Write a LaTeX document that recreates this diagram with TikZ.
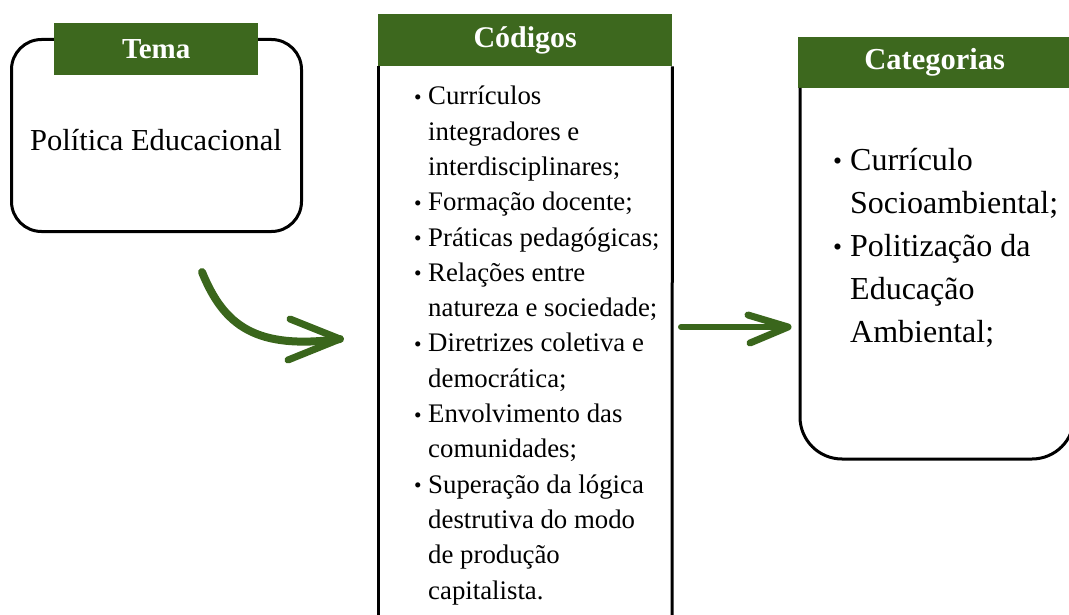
\documentclass[tikz,border=0pt]{standalone}
\usepackage{fontspec}
\setmainfont{Liberation Serif}
\usepackage{graphicx}
\definecolor{hgreen}{HTML}{3D681E}
\definecolor{agreen}{HTML}{3A661C}
\newcommand{\bul}{\makebox[14pt][l]{\raisebox{0.5pt}{\scalebox{0.8}{\textbullet}}}}
\newcommand{\cnt}{\hspace*{14pt}}
\newcommand{\bulc}{\makebox[17pt][l]{\raisebox{0.5pt}{\scalebox{0.8}{\textbullet}}}}
\newcommand{\cntc}{\hspace*{17pt}}
\begin{document}
\begin{tikzpicture}[x=1pt,y=-1pt,
  frame/.style={draw=black,line width=3pt},
  header/.style={fill=hgreen,text=white,font=\bfseries,inner sep=0pt,anchor=north west},
  brush/.style={draw=agreen,line width=6pt,line cap=round,line join=round}]
\useasboundingbox (0,0) rectangle (1069,615);
\clip (0,0) rectangle (1069,615);
% Tema
\node[frame,rounded corners=30pt,minimum width=290pt,minimum height=192pt,anchor=north west,inner sep=0pt] (tema) at (10,38) {};
\node[header,minimum width=204pt,minimum height=52pt,font=\bfseries\fontsize{29}{32}\selectfont] (temah) at (54,23) {Tema};
\node[anchor=base,inner sep=0pt,font=\fontsize{30.5}{36}\selectfont] (temat) at (156,151) {Política Educacional};
% Codigos
\node[header,minimum width=294pt,minimum height=52pt,font=\bfseries\fontsize{30}{33}\selectfont] (codh) at (378,14) {Códigos};
\coordinate (codbl) at (378,620);
\coordinate (codbr) at (672,620);
\draw[frame] (codh.south west) -- (codbl);
\draw[frame] (codh.south east) -- (codbr);
\node[anchor=base west,inner sep=0pt,align=left,font=\fontsize{26.8}{35.3}\selectfont] (codt) at (414,599) {%
\bul Currículos\\
\cnt integradores e\\
\cnt interdisciplinares;\\
\bul Formação docente;\\
\bul Práticas pedagógicas;\\
\bul Relações entre\\
\cnt natureza e sociedade;\\
\bul Diretrizes coletiva e\\
\cnt democrática;\\
\bul Envolvimento das\\
\cnt comunidades;\\
\bul Superação da lógica\\
\cnt destrutiva do modo\\
\cnt de produção\\
\cnt capitalista.};
% Categorias
\node[header,minimum width=280pt,minimum height=51pt,text width=276pt,align=center,font=\bfseries\fontsize{30.5}{33}\selectfont] (cath) at (798,37) {\hspace*{-7pt}Categorias};
\coordinate (catr) at (1074,88);
\draw[frame,rounded corners=42pt] (800,88) -- (800,459) -- (1074,459) -- (catr);
\node[anchor=base west,inner sep=0pt,align=left,font=\fontsize{32}{43}\selectfont] (catt) at (833,342) {%
\bulc Currículo\\
\cntc Socioambiental;\\
\bulc Politização da\\
\cntc Educação\\
\cntc Ambiental;};
% arrows
\coordinate (a1s) at (202,272);
\coordinate (a1t) at (340,339);
\coordinate (a1u) at (290,319);
\coordinate (a1l) at (288,360);
\draw[brush,line width=8pt] (a1s) .. controls (224,326) and (256,350) .. (a1t);
\draw[brush,line width=7pt] (a1u) -- (a1t) -- (a1l);
\coordinate (a2s) at (681,327);
\coordinate (a2t) at (788,327);
\coordinate (a2u) at (748,315);
\coordinate (a2l) at (750,343);
\draw[brush,line width=6pt] (a2s) -- (a2t);
\draw[brush,line width=7pt] (a2u) -- (a2t) -- (a2l);
\end{tikzpicture}
\end{document}
